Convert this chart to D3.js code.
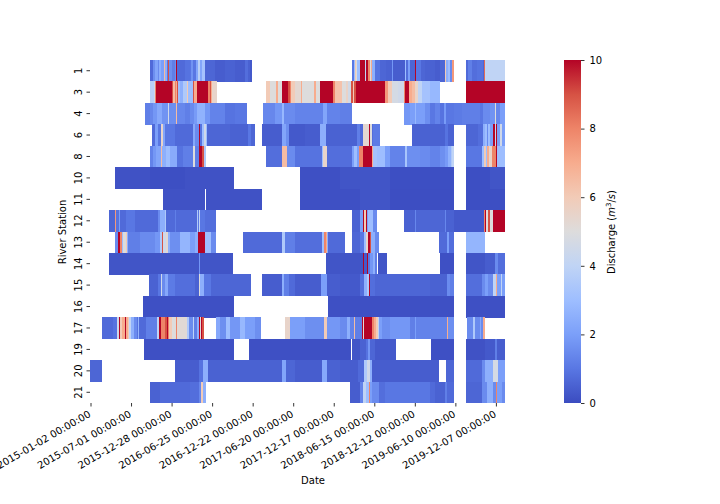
<!DOCTYPE html>
<html>
<head>
<meta charset="utf-8">
<script src="https://cdn.jsdelivr.net/npm/d3@7"></script>
<style>
  body { margin: 0; background: #fff; }
  text { font-family: "DejaVu Sans", sans-serif; font-size: 10px; fill: #000; }
</style>
</head>
<body>
<script>
// Each station is a list of [start bin, discharge]; a bin is about 4.44 days, null = no record
var station1 = [[60,.7],[63,1.6],[65,2.2],[68,1.5],[69,2.5],[71,2],[74,6.5],[75,2.5],[77,1],[78,9],[79,1.6],[82,1.2],[85,1.6],[86,10],[87,.7],[95,.9],[100,1],[101,1.7],[103,1],[106,2.2],[108,3.8],[110,2.2],[112,3.2],[115,.6],[125,.4],[135,.5],[145,.4],[155,.8],[158,.5],[160,.3],[162,null],
  [262,1],[264,3],[265,6],[266,5],[267,3],[270,10],[275,4],[276,10],[278,8],[280,5],[281,7],[282,2.5],[285,.9],[290,.6],[296,.5],[302,1.8],[303,.4],[315,3],[316,.8],[318,2],[320,.6],[325,10],[326,1],[331,.6],[335,.5],[345,.4],[350,.6],[355,6],[356,2.5],[358,3],[360,1.5],[362,7.5],[364,null],
  [376,.7],[378,1.2],[382,.8],[387,.9],[393,.6],[394,8.5],[395,4],[415,null]];
var station3 = [[60,3.8],[64,4.5],[65,8],[66,10],[82,9],[83,6.5],[85,8],[86,7],[87,9],[88,3],[90,2.5],[93,3.5],[97,6],[98,3],[103,9],[104,7],[107,10],[118,8],[120,9],[121,7],[122,5.5],[127,null],
  [176,6],[180,5],[186,7],[188,5],[192,10],[198,9],[200,8],[201,6],[205,5.3],[211,7],[212,5],[224,7],[226,5],[230,10],[243,8],[245,6.3],[252,5],[256,5.6],[258,4.6],[261,9],[263,6],[264,9],[266,10],[295,7.5],[298,6],[302,4.7],[308,4.5],[314,8],[315,10],[319,7],[322,6.5],[325,5.5],[328,4],[332,3.2],[340,2.8],[350,null],
  [376,10],[415,null]];
var station4 = [[55,1.2],[60,1.4],[63,1.8],[67,2.3],[72,1.7],[78,4.5],[79,1.6],[86,6.5],[87,1.4],[95,1.2],[100,1.5],[104,1.9],[107,2.6],[115,1.8],[120,1.3],[135,.9],[145,1],[157,null],
  [173,1.4],[185,1.8],[192,2.8],[194,1.5],[205,1.3],[233,2.2],[237,1.3],[250,1.2],[262,null],
  [314,1.8],[320,2],[325,2.8],[326,2],[335,1.6],[340,1],[345,1.3],[350,.9],[354,1.9],[356,1],[364,1.1],[372,1.2],[390,1],[393,1.5],[400,1.7],[405,5],[406,1.4],[410,2],[415,null]];
var station6 = [[62,.7],[65,2],[68,1],[71,5.5],[73,2.2],[75,1],[85,.7],[103,2.3],[105,1.5],[109,10],[110,.9],[112,3],[114,4.5],[116,3],[117,.6],[140,.5],[158,1],[161,.6],[165,null],
  [172,.4],[192,2.2],[196,1.6],[199,.3],[215,.4],[230,2.5],[236,.5],[262,.5],[267,1.2],[270,.7],[273,5.3],[279,10],[280,5],[282,.8],[283,1.1],[290,null],
  [322,.5],[340,.5],[355,.9],[358,.5],[364,null],
  [376,.6],[388,.8],[393,2.5],[395,3],[397,1.5],[398,3],[400,2],[403,10],[405,4],[406,10],[407,2],[410,4.5],[412,2],[415,null]];
var station8 = [[60,1.3],[63,1.8],[66,2.2],[71,6.5],[72,2.5],[76,3],[80,2.4],[87,.9],[93,1.2],[103,5],[105,1.2],[109,10],[112,9],[114,3.5],[116,null],
  [176,.8],[192,6.5],[197,1.5],[205,.9],[232,3],[233,5.5],[237,.8],[262,2],[264,3],[267,2],[269,8],[273,10],[282,7],[283,3.2],[287,3],[295,2],[300,1.3],[315,3.3],[317,1.6],[330,1.5],[340,1.3],[350,1.6],[355,1.9],[358,2.6],[361,3.5],[362,4],[364,null],
  [376,1],[392,3],[394,6],[396,3],[397,7],[399,5.5],[402,8],[406,10],[407,3],[415,null]];
var station10 = [[25,.15],[60,.08],[95,.15],[144,null],[210,.1],[250,.2],[300,.08],[364,null],[376,.08],[400,.2],[415,null]];
var station11 = [[73,.15],[115,null],[116,.15],[172,null],[210,.1],[270,.2],[300,.05],[364,null],[376,.08],[415,null]];
var station12 = [[19,.6],[25,7.5],[26,.9],[29,2],[30,.7],[36,1],[45,.7],[68,1.5],[70,2.5],[75,3.5],[76,.7],[85,1.2],[86,.7],[107,3.5],[108,1],[109,4],[110,1],[115,.8],[126,null],
  [262,.5],[270,2],[273,10],[274,6],[276,10],[277,2],[278,3],[283,1.5],[287,null],
  [314,.5],[325,1.4],[326,.6],[355,1.4],[356,.5],[364,.3],[394,8],[395,10],[396,5],[398,9],[400,5],[403,10],[415,null]];
var station13 = [[25,1.5],[28,10],[30,8],[32,3],[33,5],[36,6],[37,2.5],[38,1.2],[50,1.5],[65,1.8],[70,3.5],[72,9],[73,4.5],[76,5.3],[78,2.5],[80,1.6],[90,2.7],[100,2],[105,2.5],[108,10],[115,3],[121,1.5],[126,null],
  [153,.7],[192,3.5],[195,1.2],[205,.8],[232,3],[234,8],[236,7],[237,2.5],[238,.7],[255,null],
  [262,.6],[270,1],[274,3],[276,5.5],[278,10],[280,9],[281,2.5],[285,1.5],[289,null],
  [349,.7],[357,2],[359,.8],[364,null],
  [376,2.7],[395,null]];
var station14 = [[19,.2],[109,1.8],[110,.2],[143,null],
  [236,.2],[273,10],[274,.3],[277,10],[278,1],[280,1.8],[283,2.5],[285,1.2],[287,null],
  [288,.2],[297,null],
  [350,.1],[364,null],
  [376,.2],[395,.4],[405,1.5],[408,.8],[415,null]];
var station15 = [[59,.5],[68,1],[71,4.5],[72,1.5],[75,2.3],[78,1.1],[85,.8],[105,.5],[109,5],[110,2.5],[114,1],[121,.6],[161,null],
  [172,.4],[192,2.5],[194,1.2],[199,.7],[205,.4],[231,2],[237,.4],[250,.3],[270,.8],[274,2.5],[277,3.5],[279,10],[280,.8],[285,.6],[340,.5],[357,1.5],[360,1.2],[364,null],
  [376,.8],[392,1.5],[395,2],[398,1.5],[403,4],[406,7],[407,2],[411,4],[412,2],[415,null]];
var station16 = [[53,.1],[144,null],[238,.1],[364,null],[376,.1],[415,null]];
var station17 = [[12,.7],[23,.9],[27,4.5],[29,10],[30,6],[32,7],[35,10],[36,7],[38,6],[39,4],[41,2.5],[44,1.5],[47,.9],[47.5,2.7],[49,.7],[56,1.2],[67,4],[69,10],[71,8],[75,9],[77,10],[78,8],[79,6],[82,5],[86,8],[87,5.2],[97,3.5],[99,1.5],[103,4],[104,1.2],[107,2.5],[109,10],[110,5],[111,10],[112,9],[114,null],
  [126,2.3],[130,1.6],[136,3],[140,1.8],[150,2.8],[155,2],[165,1.6],[171,null],
  [195,5.5],[200,2],[215,1.6],[234,6],[237,1.8],[250,1.5],[257,2.5],[260,1.3],[264,6.5],[265,1.2],[272,10],[273,5],[274,10],[282,8],[284,7],[286,6],[288,4],[289,2],[292,1.6],[300,1.8],[320,1.2],[325,2],[326,1.3],[340,1.3],[357,7],[358,1.6],[364,null],
  [377,1.5],[383,3.5],[385,1.5],[390,2.3],[391,1.5],[393,7],[395,null]];
var station19 = [[54,.1],[144,null],[159,.1],[261,null],[262,.2],[270,.5],[276,.9],[278,1.8],[280,.6],[285,.3],[306,null],[341,.1],[364,null],[376,.15],[395,.3],[405,1.2],[407,.4],[415,null]];
var station20 = [[0,.6],[12,null],[85,.4],[109,.9],[113,2.5],[118,.5],[192,2.2],[196,.6],[205,.4],[232,2.3],[237,.5],[250,.4],[268,.7],[274,3.5],[277,4.5],[280,2.5],[282,.4],[349,null],[356,.6],[364,null],[376,.7],[392,1.5],[395,2.5],[403,4.7],[408,2],[415,null]];
var station21 = [[60,.5],[70,.7],[85,.7],[100,.8],[109,1.4],[111,6],[113,2.5],[116,null],[260,.4],[270,1.3],[273,4],[276,3],[279,8],[280,2],[282,1.5],[289,.8],[295,1],[340,.7],[345,.5],[355,1.2],[357,.7],[364,null],[376,.6],[392,1.5],[397,2.5],[403,1.5],[406,8],[407,2],[412,1.5],[415,null]];

var stationNames = ["1","3","4","6","8","10","11","12","13","14","15","16","17","19","20","21"];
var stationRows = [station1,station3,station4,station6,station8,station10,station11,station12,station13,station14,station15,station16,station17,station19,station20,station21];
var tickDates = ["2015-01-02","2015-07-01","2015-12-28","2016-06-25","2016-12-22","2017-06-20","2017-12-17","2018-06-15","2018-12-12","2019-06-10","2019-12-07"];
var colorTicks = [0,2,4,6,8,10];
// matplotlib coolwarm sampled at 0,1..10
var coolwarm = ["#3b4cc0","#5977e3","#7b9ff9","#9ebeff","#c0d4f5","#dddcdc","#f2cbb7","#f7ac8e","#ee8468","#d65244","#b40426"];

var binDays = 4.44;

var svg = d3.select(document.body).append("svg").attr("width", 720).attr("height", 504);

var x = d3.scaleLinear().domain([0, 415]).range([90, 505]);
var y = d3.scaleBand().domain(stationNames).range([60, 403]);
var color = d3.scaleLinear().domain(d3.range(11)).range(coolwarm).clamp(true);

var parseDay = d3.utcParse("%Y-%m-%d");
var firstDay = parseDay(tickDates[0]);
function dateBin(s) { return (parseDay(s) - firstDay) / 864e5 / binDays + 0.5; }

// turn the [start, value] runs into cells
var cells = [];
stationRows.forEach(function(runs, i) {
	for (var j = 0; j < runs.length - 1; j++) {
		if (runs[j][1] === null) continue;
		cells.push({station: stationNames[i], from: runs[j][0], to: runs[j + 1][0], v: runs[j][1]});
	}
});

svg.append("g").selectAll("rect").data(cells).enter().append("rect")
	.attr("x", function(d) { return x(d.from); })
	.attr("y", function(d) { return y(d.station); })
	.attr("width", function(d) { return x(d.to) - x(d.from); })
	.attr("height", y.bandwidth() + 0.3)
	.attr("fill", function(d) { return color(d.v); })
	.attr("shape-rendering", "crispEdges");

// x axis
var xAxis = svg.append("g").attr("transform", "translate(0,403)")
	.call(d3.axisBottom(x).tickValues(tickDates.map(dateBin)).tickSize(3.5).tickFormat(function(d, i) { return tickDates[i] + " 00:00:00"; }));
xAxis.select(".domain").remove();
xAxis.selectAll("line").attr("stroke", "#000").attr("stroke-width", 0.8);
xAxis.selectAll("text")
	.attr("text-anchor", "end")
	.attr("fill", "#000")
	.attr("transform", "translate(-3,7) rotate(-30)")
	.attr("x", 0).attr("y", 3.5).attr("dy", "0.35em")
	.style("font-size", "10px").style("font-family", "DejaVu Sans");

// y axis
var yAxis = svg.append("g").attr("transform", "translate(90,0)")
	.call(d3.axisLeft(y).tickSize(3.5));
yAxis.select(".domain").remove();
yAxis.selectAll("line").attr("stroke", "#000").attr("stroke-width", 0.8);
yAxis.selectAll("text")
	.attr("fill", "#000")
	.attr("text-anchor", "middle")
	.attr("x", 0).attr("dy", 0)
	.attr("transform", "translate(-12,0) rotate(-90)")
	.attr("y", 3.5)
	.style("font-size", "10px").style("font-family", "DejaVu Sans");

svg.append("text").attr("x", 313).attr("y", 484).attr("text-anchor", "middle").text("Date");
svg.append("text").attr("transform", "translate(66,232) rotate(-90)").attr("text-anchor", "middle").text("River Station");

// colorbar
var cbar = d3.scaleLinear().domain([0, 10]).range([403, 60]);
var grad = svg.append("defs").append("linearGradient").attr("id", "cbar-grad")
	.attr("x1", 0).attr("x2", 0).attr("y1", 1).attr("y2", 0);
grad.selectAll("stop").data(coolwarm).enter().append("stop")
	.attr("offset", function(d, i) { return i / 10; })
	.attr("stop-color", function(d) { return d; });
svg.append("rect").attr("x", 564).attr("y", cbar(10)).attr("width", 17).attr("height", cbar(0) - cbar(10)).attr("fill", "url(#cbar-grad)");

var cAxis = svg.append("g").attr("transform", "translate(581,0)")
	.call(d3.axisRight(cbar).tickValues(colorTicks).tickSize(3.5).tickFormat(d3.format("d")));
cAxis.select(".domain").remove();
cAxis.selectAll("line").attr("stroke", "#000").attr("stroke-width", 0.8);
cAxis.selectAll("text").attr("x", 8.5).attr("fill", "#000").style("font-size", "10px").style("font-family", "DejaVu Sans");

var cLabel = svg.append("text").attr("transform", "translate(615,232) rotate(-90)").attr("text-anchor", "middle");
cLabel.append("tspan").text("Discharge (");
cLabel.append("tspan").attr("font-style", "italic").text("m");
cLabel.append("tspan").attr("dy", -4).style("font-size", "7px").text("3");
cLabel.append("tspan").attr("dy", 4).text("/");
cLabel.append("tspan").attr("font-style", "italic").text("s");
cLabel.append("tspan").text(")");
</script>
</body>
</html>
